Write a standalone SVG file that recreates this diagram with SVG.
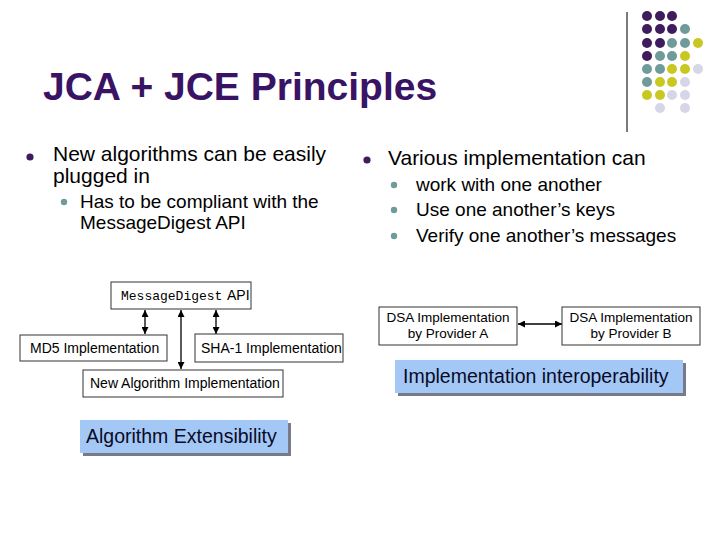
<svg xmlns="http://www.w3.org/2000/svg" width="720" height="540" viewBox="0 0 720 540">
<style>
.t{font-family:"Liberation Sans",Arial,sans-serif;fill:#000}
.title{font-family:"Liberation Sans",Arial,sans-serif;font-weight:bold;font-size:39px;fill:#3a1464}
.main{font-size:21px}
.sub{font-size:19px}
.box{fill:#fff;stroke:#333;stroke-width:1}
.lbl{font-size:14px}
.dsa{font-size:13.5px;text-anchor:middle}
.mono{font-family:"Liberation Mono","Courier New",monospace;font-size:13px;fill:#000}
.cap{fill:#a3c8f5}
.shadow{fill:#777a88}
.capt{font-size:19.5px;fill:#0a0a28}
.conn{stroke:#000;stroke-width:1.3;fill:none;marker-start:url(#ah);marker-end:url(#ah)}
.p{fill:#3f1c5e}.g{fill:#6f9b9b}.y{fill:#c9c823}.l{fill:#d6d6e8}
</style>
<defs>
<marker id="ah" viewBox="0 0 10 10" refX="10" refY="5" markerWidth="7" markerHeight="7" orient="auto-start-reverse" markerUnits="userSpaceOnUse">
<path d="M0,0 L10,5 L0,10 z" fill="#000"/>
</marker>
</defs>
<rect width="720" height="540" fill="#fff"/>

<g id="decor">
<line x1="627" y1="12" x2="627" y2="132" stroke="#222" stroke-width="1.2"/>
<circle class="p" cx="647" cy="16" r="5"/><circle class="p" cx="660" cy="16" r="5"/><circle class="p" cx="672" cy="16" r="5"/>
<circle class="p" cx="647" cy="29" r="5"/><circle class="p" cx="660" cy="29" r="5"/><circle class="p" cx="672" cy="29" r="5"/><circle class="g" cx="685" cy="29" r="5"/>
<circle class="p" cx="647" cy="43" r="5"/><circle class="p" cx="660" cy="43" r="5"/><circle class="g" cx="672" cy="43" r="5"/><circle class="g" cx="685" cy="43" r="5"/><circle class="y" cx="698" cy="43" r="5"/>
<circle class="p" cx="647" cy="56" r="5"/><circle class="g" cx="660" cy="56" r="5"/><circle class="g" cx="672" cy="56" r="5"/><circle class="y" cx="685" cy="56" r="5"/>
<circle class="g" cx="647" cy="69" r="5"/><circle class="g" cx="660" cy="69" r="5"/><circle class="y" cx="672" cy="69" r="5"/><circle class="y" cx="685" cy="69" r="5"/><circle class="l" cx="698" cy="69" r="5"/>
<circle class="g" cx="647" cy="82" r="5"/><circle class="y" cx="660" cy="82" r="5"/><circle class="y" cx="672" cy="82" r="5"/><circle class="l" cx="685" cy="82" r="5"/>
<circle class="y" cx="647" cy="95" r="5"/><circle class="y" cx="660" cy="95" r="5"/><circle class="l" cx="672" cy="95" r="5"/><circle class="l" cx="685" cy="95" r="5"/>
<circle class="l" cx="660" cy="108" r="5"/><circle class="l" cx="685" cy="108" r="5"/>
</g>

<g id="title"><text class="title" x="43" y="100">JCA + JCE Principles</text></g>

<g id="bullets-left">
<circle cx="30" cy="157" r="3.6" fill="#3f1c5e"/>
<text class="t main" x="53" y="161">New algorithms can be easily</text>
<text class="t main" x="53" y="183">plugged in</text>
<circle cx="64" cy="202" r="3.2" fill="#6f9b9b"/>
<text class="t sub" x="80" y="208">Has to be compliant with the</text>
<text class="t sub" x="80" y="229">MessageDigest API</text>
</g>

<g id="bullets-right">
<circle cx="367" cy="160" r="3.6" fill="#3f1c5e"/>
<text class="t main" x="388" y="165">Various implementation can</text>
<circle cx="394" cy="185" r="3.2" fill="#6f9b9b"/>
<text class="t sub" x="416" y="191">work with one another</text>
<circle cx="394" cy="210" r="3.2" fill="#6f9b9b"/>
<text class="t sub" x="416" y="216">Use one another’s keys</text>
<circle cx="394" cy="236" r="3.2" fill="#6f9b9b"/>
<text class="t sub" x="416" y="242">Verify one another’s messages</text>
</g>

<g id="connectors">
<line class="conn" x1="145" y1="310" x2="145" y2="334"/>
<line class="conn" x1="181" y1="310" x2="181" y2="369"/>
<line class="conn" x1="216" y1="310" x2="216" y2="334"/>
<line class="conn" x1="518" y1="324" x2="562" y2="324"/>
</g>

<g id="node-md-api">
<rect class="box" x="111" y="282" width="140" height="27"/>
<text class="mono" x="121" y="300">MessageDigest</text>
<text class="t lbl" x="227" y="300">API</text>
</g>
<g id="node-md5">
<rect class="box" x="20" y="335" width="147" height="26"/>
<text class="t lbl" x="30" y="353">MD5 Implementation</text>
</g>
<g id="node-sha1">
<rect class="box" x="195" y="334" width="148" height="28"/>
<text class="t lbl" x="201" y="353">SHA-1 Implementation</text>
</g>
<g id="node-new">
<rect class="box" x="83" y="370" width="200" height="27"/>
<text class="t lbl" x="90" y="388">New Algorithm Implementation</text>
</g>

<g id="caption-left">
<rect class="shadow" x="83" y="423" width="208" height="33"/>
<rect class="cap" x="80" y="420" width="208" height="33"/>
<text class="t capt" x="86" y="443">Algorithm Extensibility</text>
</g>

<g id="node-dsa-a">
<rect class="box" x="379" y="307" width="138" height="38"/>
<text class="t dsa" x="448" y="322">DSA Implementation</text>
<text class="t dsa" x="448" y="338">by Provider A</text>
</g>
<g id="node-dsa-b">
<rect class="box" x="562" y="307" width="138" height="38"/>
<text class="t dsa" x="631" y="322">DSA Implementation</text>
<text class="t dsa" x="631" y="338">by Provider B</text>
</g>

<g id="caption-right">
<rect class="shadow" x="398" y="363" width="288" height="33"/>
<rect class="cap" x="395" y="360" width="288" height="33"/>
<text class="t capt" x="403" y="383">Implementation interoperability</text>
</g>
</svg>
